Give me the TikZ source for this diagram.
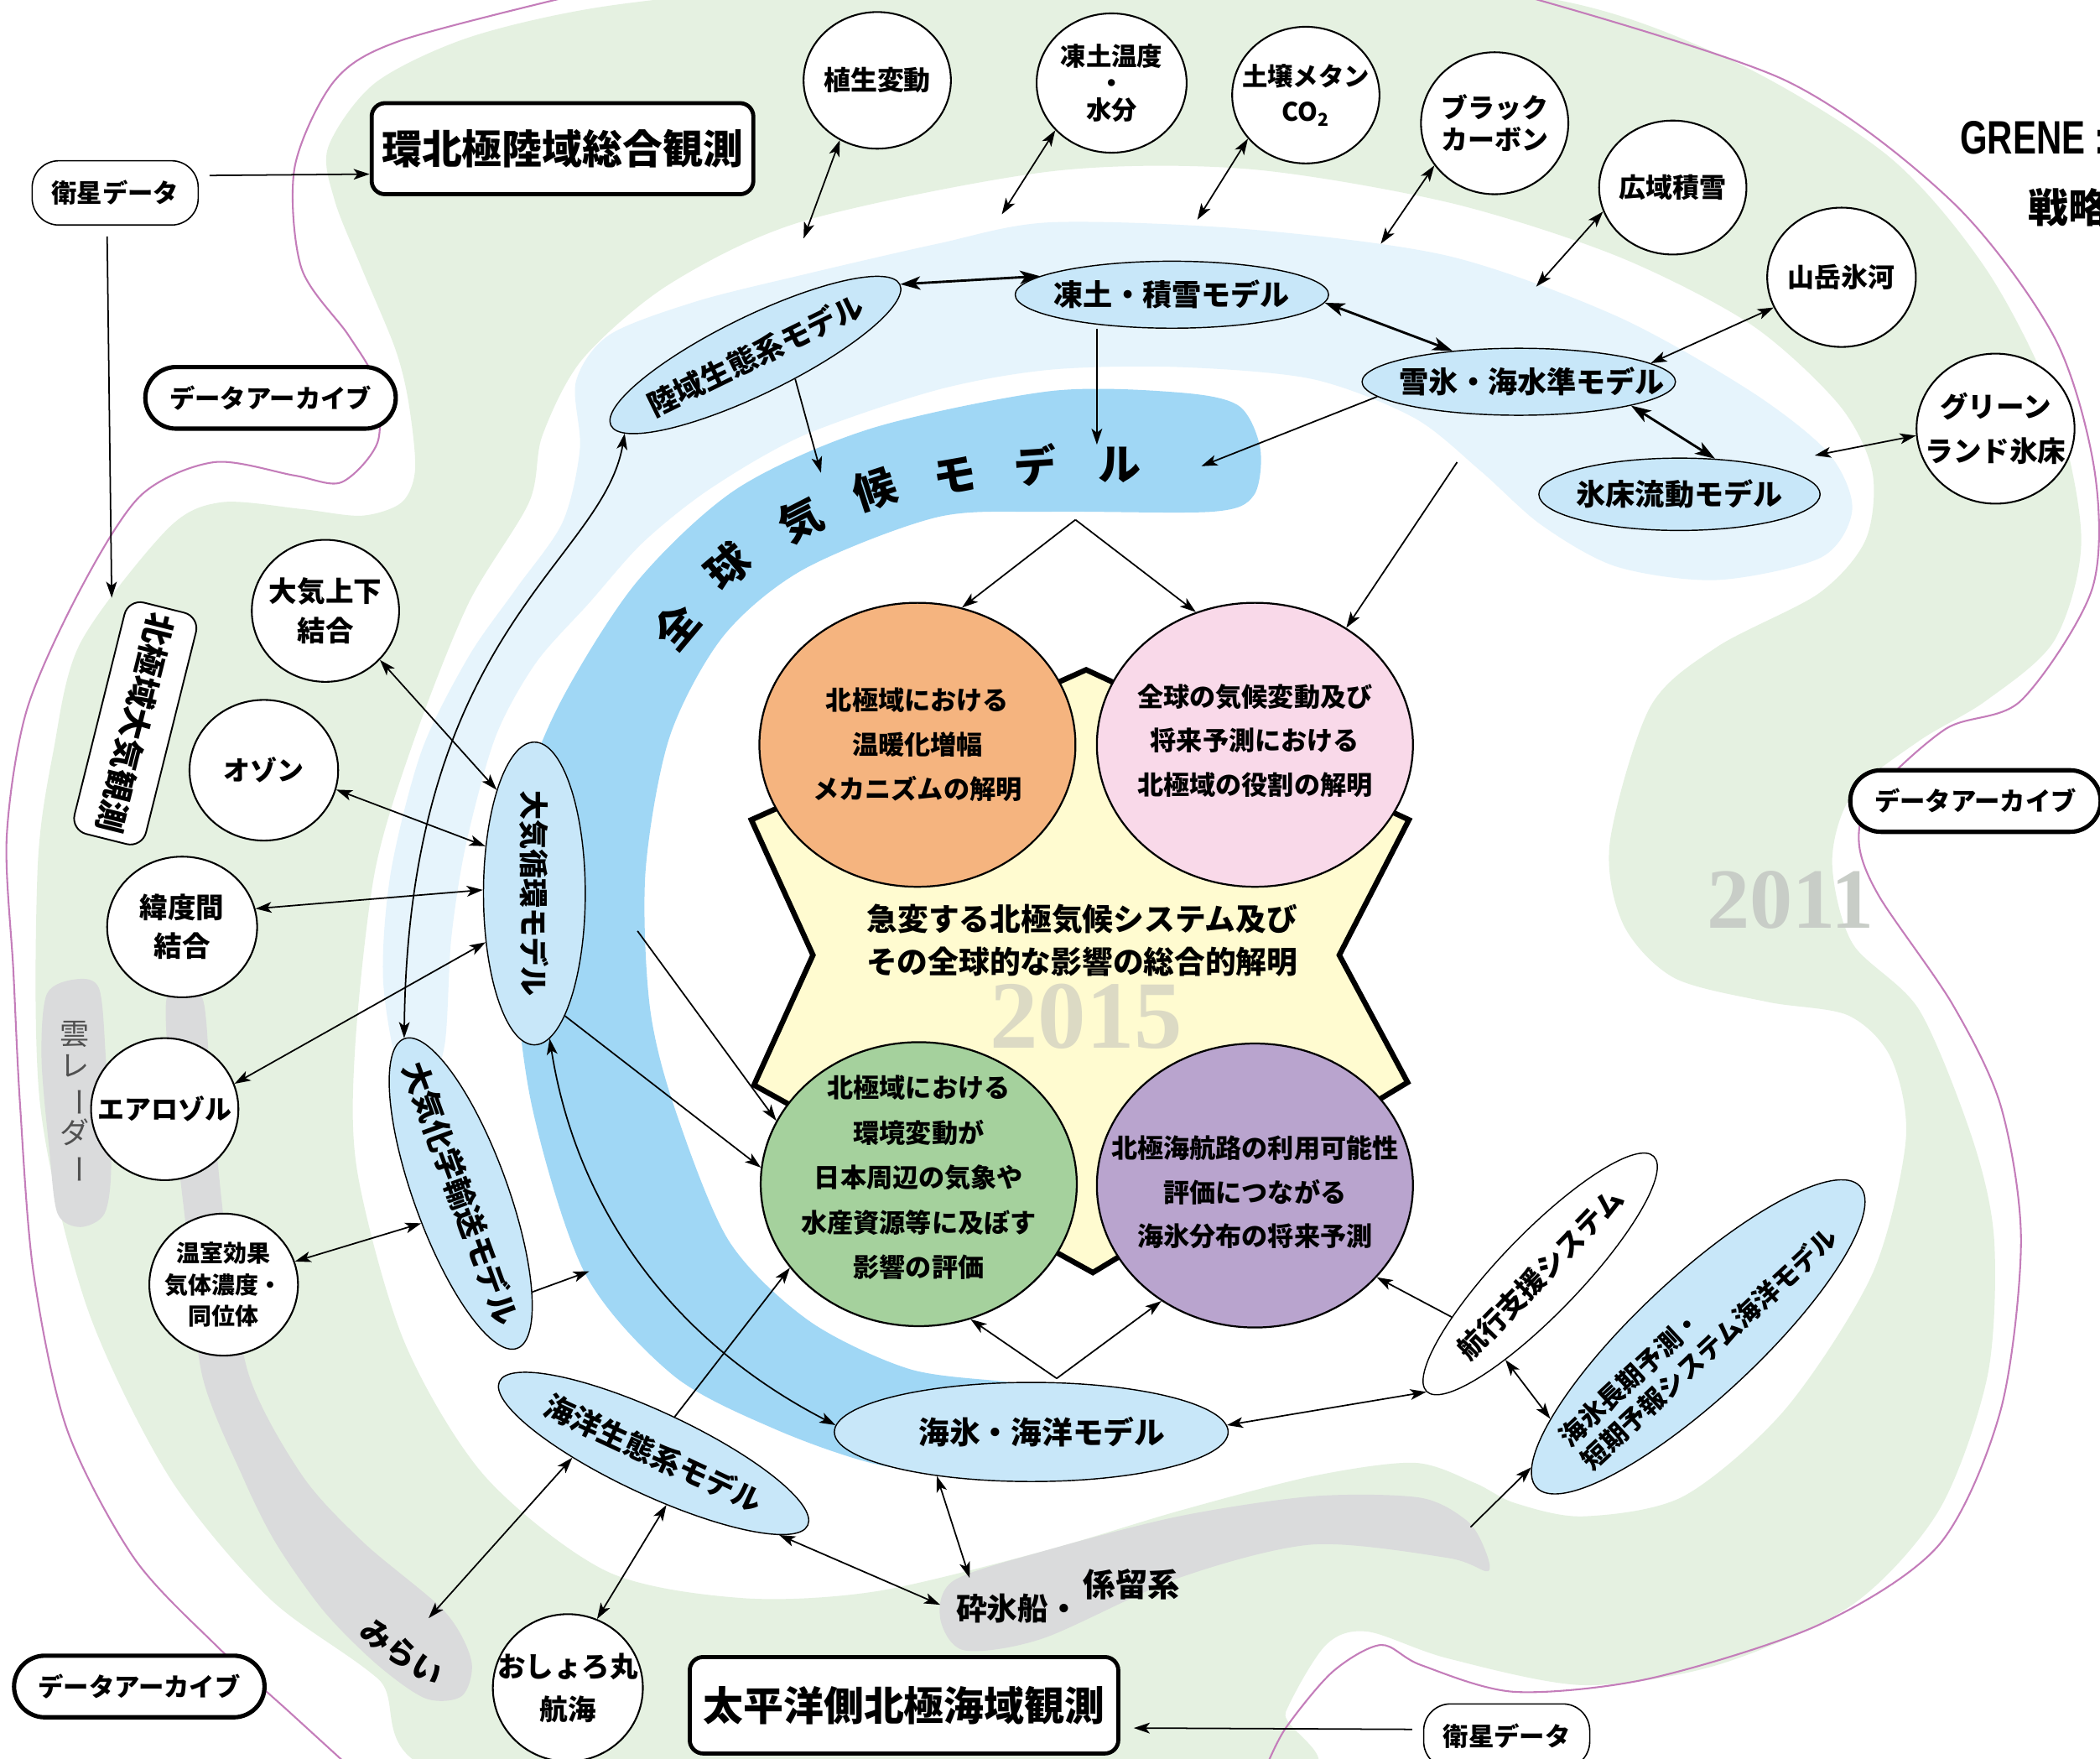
\documentclass[tikz,border=0pt]{standalone}
\usepackage{fontspec}
\usepackage{graphicx}
\setmainfont{Noto Sans CJK JP}
\newfontfamily\numfont{Liberation Serif}
\newfontfamily\grenefont{Liberation Sans}[FakeStretch=0.75]
\usetikzlibrary{shapes.geometric,arrows.meta}
\definecolor{bgreen}{HTML}{E5F1E1}
\definecolor{lblue}{HTML}{E6F4FC}
\definecolor{gcmblue}{HTML}{A0D7F5}
\definecolor{mblue}{HTML}{C8E7F9}
\definecolor{grayband}{HTML}{DADBDC}
\definecolor{purpline}{HTML}{C47DBA}
\definecolor{staryel}{HTML}{FFFBD0}
\definecolor{orangec}{HTML}{F5B47F}
\definecolor{pinkc}{HTML}{F9D9E9}
\definecolor{greenc}{HTML}{A5D19D}
\definecolor{purplec}{HTML}{B9A4CE}
\definecolor{grayyear}{HTML}{C8CDC7}
\definecolor{grayyearb}{HTML}{DCDAC4}
\definecolor{radartext}{HTML}{505050}
\newcommand\fsz[2]{\fontsize{#1}{#2}\selectfont\bfseries}

\begin{document}
\begin{tikzpicture}[x=1pt,y=-1pt,
  lab/.style n args={2}{font=\fsz{#1}{#2},align=center},
  obs/.style={ellipse,draw,line width=1.3pt,fill=white,inner sep=0pt},
  model/.style={ellipse,draw,line width=0.9pt,fill=mblue,inner sep=0pt},
  goal/.style={ellipse,draw,line width=1.4pt,inner sep=0pt,minimum width=236pt,minimum height=212pt},
  archive/.style={draw,line width=3.2pt,rounded corners=23pt,fill=white,minimum width=187pt,minimum height=46pt,inner sep=0pt,font=\fsz{19}{19}},
  satbox/.style={draw,line width=1pt,rounded corners=20pt,fill=white,minimum width=124pt,minimum height=48pt,inner sep=0pt,font=\fsz{19}{19}},
  obsbox/.style={draw,line width=3pt,rounded corners=10pt,fill=white,inner sep=0pt,font=\fsz{30}{30}},
  gcm/.style={font=\fsz{32}{32}},
  arr/.style={-{Stealth[length=12pt,width=8pt,inset=3pt]},line width=1.1pt},
  darr/.style={{Stealth[length=12pt,width=8pt,inset=3pt]}-{Stealth[length=12pt,width=8pt,inset=3pt]},line width=1.1pt},
  bigdarr/.style={{Stealth[length=15pt,width=10pt,inset=4pt]}-{Stealth[length=15pt,width=10pt,inset=4pt]},line width=1.8pt}]

\useasboundingbox (0,0) rectangle (1568,1313);
\fill[white] (0,0) rectangle (1568,1313);

% background bands
\fill[bgreen,even odd rule]
  plot[smooth cycle] coordinates {(280,62) (350,28) (450,5) (600,-10) (800,-15) (1130,-5) (1282,40) (1408,115) (1483,201) (1534,302) (1554,403) (1534,478) (1483,523) (1433,553) (1383,593) (1368,643) (1383,704) (1433,754) (1473,851) (1489,926) (1484,1027) (1448,1127) (1383,1198) (1282,1243) (1182,1258) (1081,1238) (1021,1218) (990,1228) (960,1278) (945,1330) (360,1330) (282,1253) (201,1193) (126,1102) (65,976) (30,825) (28,650) (40,560) (60,480) (125,395) (165,375) (225,380) (270,385) (300,375) (310,350) (305,300) (295,260) (270,200) (250,150) (245,110)}
  plot[smooth cycle] coordinates {(784,128) (930,126) (1081,151) (1207,191) (1307,242) (1373,302) (1398,352) (1393,403) (1358,443) (1282,483) (1232,528) (1202,629) (1212,690) (1250,730) (1320,748) (1380,758) (1412,790) (1423,851) (1398,951) (1333,1052) (1257,1117) (1182,1132) (1131,1122) (1101,1107) (1056,1092) (980,1102) (880,1128) (779,1158) (654,1188) (554,1193) (453,1173) (362,1102) (302,1002) (267,876) (265,784) (280,650) (310,550) (350,450) (395,375) (405,325) (435,268) (500,212) (600,165)};
\fill[lblue] plot[smooth cycle] coordinates {(430,285) (455,250) (520,225) (600,205) (700,182) (784,166) (930,171) (1081,191) (1207,236) (1307,292) (1365,338) (1383,380) (1360,416) (1282,433) (1207,423) (1151,392) (1106,352) (1056,312) (980,283) (880,274) (784,276) (700,291) (600,325) (530,365) (480,405) (440,450) (400,495) (370,550) (348,630) (337,700) (332,780) (318,815) (298,800) (286,730) (292,650) (315,560) (350,490) (385,440) (420,390) (433,335)};
\fill[gcmblue] plot[smooth cycle] coordinates {(475,435) (550,365) (650,320) (784,292) (880,293) (925,303) (941,335) (936,370) (905,382) (784,382) (700,386) (600,425) (540,475) (500,550) (482,650) (485,750) (503,825) (544,926) (604,986) (679,1022) (755,1032) (805,1040) (828,1062) (805,1088) (730,1102) (654,1093) (579,1067) (503,1027) (437,951) (397,825) (383,700) (390,600) (418,525)};
\fill[grayband] plot[smooth cycle] coordinates {(57,731) (74,738) (79,790) (83,870) (78,906) (60,916) (43,906) (37,860) (31,790) (35,742)};
\fill[grayband] plot[smooth cycle] coordinates {(124,748) (137,735) (152,748) (158,820) (169,926) (186,1027) (226,1102) (272,1152) (332,1203) (352,1240) (345,1266) (318,1268) (282,1243) (242,1203) (206,1152) (181,1102) (151,1027) (140,926) (128,820)};
\fill[grayband] plot[smooth cycle] coordinates {(712,1180) (779,1158) (880,1132) (980,1117) (1060,1118) (1095,1135) (1108,1155) (1111,1173) (1081,1163) (980,1153) (880,1178) (779,1223) (720,1232) (702,1208)};
\draw[purpline,line width=1.3pt] plot[smooth] coordinates {(435,-5) (300,30) (250,60) (220,125) (225,200) (260,250) (280,285) (282,330) (255,360) (220,355) (160,345) (105,370) (60,440) (20,530) (5,625) (10,725) (15,825) (25,950) (50,1067) (100,1163) (161,1228) (216,1278) (262,1320)};
\draw[purpline,line width=1.3pt] plot[smooth] coordinates {(1131,-5) (1333,60) (1458,151) (1534,252) (1564,352) (1562,440) (1509,523) (1453,544) (1398,594) (1388,629) (1403,669) (1458,750) (1494,826) (1509,926) (1494,1052) (1448,1153) (1358,1213) (1232,1253) (1131,1263) (1061,1243) (1031,1228) (995,1248) (960,1290) (945,1320)};

\node[font=\fontsize{22}{24}\selectfont,text=radartext,align=center] (radar) at (56,823) {雲\\レ\\\rotatebox[origin=c]{-90}{ー}\\ダ\\\rotatebox[origin=c]{-90}{ー}};
\node[font=\fsz{23}{23},rotate=-35] (mirai) at (300,1234) {みらい};
\node[font=\fsz{23}{23}] (ibreak) at (760,1201) {砕氷船・};
\node[font=\fsz{24}{24}] (moor) at (845,1183) {係留系};
\node[font=\numfont\fsz{64}{64},text=grayyear] (y2011) at (1337,672) {2011};
\node[anchor=west,font=\grenefont\fsz{35}{35}] (grene) at (1460,103) {GRENE :};
\node[anchor=west,font=\fsz{30}{30}] (senryaku) at (1511,155) {戦略};

% global climate model band
\foreach \ch/\x/\y/\r [count=\i] in {全/505/468/50, 球/543/423/40, 気/598/388/27, 候/653/365/18, モ/713/355/10, デ/773/347/4, ル/836/347/0}
  \node[gcm,rotate=\r] (gcm\i) at (\x,\y) {\ch};

% central theme
\draw[line width=4pt,fill=staryel,line join=miter] (811,500) -- (1052,612) -- (1000,713) -- (1051,808) -- (816,950) -- (563,810) -- (607,713) -- (561,612) -- cycle;
\node[font=\numfont\fsz{72}{72},text=grayyearb] (y2015) at (811,759) {2015};
\node[font=\fsz{23}{32},align=center] (theme) at (808,702) {急変する北極気候システム及び\\その全球的な影響の総合的解明};
\node[goal,fill=orangec,label={[lab={19.5}{33}]center:北極域における\\温暖化増幅\\メカニズムの解明}] (warm) at (685,556) {};
\node[goal,fill=pinkc,label={[lab={19.5}{33},yshift=3pt]center:全球の気候変動及び\\将来予測における\\北極域の役割の解明}] (role) at (937,556) {};
\node[goal,fill=greenc,label={[lab={19.5}{33.5},yshift=5pt]center:北極域における\\環境変動が\\日本周辺の気象や\\水産資源等に及ぼす\\影響の評価}] (impact) at (686,884) {};
\node[goal,fill=purplec,label={[lab={19.5}{33},yshift=-5pt]center:北極海航路の利用可能性\\評価につながる\\海氷分布の将来予測}] (outlook) at (937,885) {};

% observation boxes
\node[satbox] (sat1) at (86,144) {衛星データ};
\node[obsbox,minimum width=285pt,minimum height=68pt] (landobs) at (420,111) {環北極陸域総合観測};
\node[archive] (archL) at (202,297) {データアーカイブ};
\node[draw,line width=1.2pt,rounded corners=12pt,fill=white,minimum width=178pt,minimum height=55pt,rotate=-104,font=\fsz{24}{24},inner sep=0pt] (atmobs) at (101,540) {北極域大気観測};
\node[archive] (archR) at (1475,598) {データアーカイブ};
\node[archive] (archB) at (104,1259) {データアーカイブ};
\node[satbox] (sat2) at (1125,1296) {衛星データ};
\node[obsbox,minimum width=320pt,minimum height=72pt] (pacobs) at (675,1273) {太平洋側北極海域観測};

% observation circles
\node[obs,minimum width=110pt,minimum height=102pt,label={[lab={20}{20}]center:植生変動}] (veg) at (655,60) {};
\node[obs,minimum width=112pt,minimum height=104pt,label={[lab={19}{20}]center:凍土温度\\・\\水分}] (frz) at (830,62) {};
\node[obs,minimum width=110pt,minimum height=102pt,label={[lab={19}{26}]center:土壌メタン\\CO\textsubscript{2}}] (soil) at (975,71) {};
\node[obs,minimum width=110pt,minimum height=106pt,label={[lab={20}{24}]center:ブラック\\カーボン}] (bc) at (1116,92) {};
\node[obs,minimum width=110pt,minimum height=100pt,label={[lab={20}{20}]center:広域積雪}] (snow) at (1249,140) {};
\node[obs,minimum width=111pt,minimum height=104pt,label={[lab={20}{20}]center:山岳氷河}] (glac) at (1375,207) {};
\node[obs,minimum width=118pt,minimum height=112pt,label={[lab={21}{33}]center:グリーン\\ランド氷床}] (greenl) at (1490,320) {};
\node[obs,minimum width=110pt,minimum height=106pt,label={[lab={21}{30}]center:大気上下\\結合}] (upper) at (243,456) {};
\node[obs,minimum width=111pt,minimum height=105pt,label={[lab={20}{20}]center:オゾン}] (ozone) at (197,575) {};
\node[obs,minimum width=112pt,minimum height=105pt,label={[lab={21}{29}]center:緯度間\\結合}] (lat) at (136,692) {};
\node[obs,minimum width=110pt,minimum height=106pt,label={[lab={20}{20}]center:エアロゾル}] (aero) at (123,828) {};
\node[obs,minimum width=111pt,minimum height=106pt,label={[lab={17.5}{23.5}]center:温室効果\\気体濃度・\\同位体}] (ghg) at (167,959) {};
\node[obs,minimum width=112pt,minimum height=110pt,label={[lab={21}{32}]center:おしょろ丸\\航海}] (oshoro) at (424,1260) {};

% models
\node[model,minimum width=240pt,minimum height=58pt,rotate=26,label={[lab={22}{22},rotate=26]center:陸域生態系モデル}] (landeco) at (564,265) {};
\node[model,minimum width=234pt,minimum height=50pt,label={[lab={22}{22}]center:凍土・積雪モデル}] (frzmod) at (875,220) {};
\node[model,minimum width=234pt,minimum height=50pt,label={[lab={22}{22},xshift=10pt]center:雪氷・海水準モデル}] (slr) at (1134,285) {};
\node[model,minimum width=210pt,minimum height=54pt,label={[lab={22}{22}]center:氷床流動モデル}] (icesh) at (1254,369) {};
\node[model,minimum width=76pt,minimum height=226pt,label={[lab={22}{22},rotate=-90]center:大気循環モデル}] (agcm) at (399,667) {};
\node[model,minimum width=246pt,minimum height=70pt,rotate=-70,label={[lab={23}{23},rotate=-70]center:大気化学輸送モデル}] (chem) at (344,891) {};
\node[model,minimum width=254pt,minimum height=62pt,rotate=-25,label={[lab={22}{22},rotate=-25]center:海洋生態系モデル}] (oceco) at (488,1085) {};
\node[model,minimum width=294pt,minimum height=74pt,label={[lab={23}{23},xshift=8pt]center:海氷・海洋モデル}] (seaice) at (770,1069) {};
\node[obs,line width=0.9pt,minimum width=244pt,minimum height=60pt,rotate=46,label={[lab={21}{21},rotate=46]center:航行支援システム}] (navsys) at (1150,951) {};
\node[model,minimum width=330pt,minimum height=90pt,rotate=43,label={[lab={19.5}{24},rotate=43,align=left]center:海氷長期予測・\\短期予報システム海洋モデル}] (forecast) at (1268,998) {};

% free ends
\coordinate (vegend) at (600,178);
\coordinate (frzend) at (748,160);
\coordinate (soilend) at (894,164);
\coordinate (bcend) at (1031,182);
\coordinate (snowend) at (1147,214);
\coordinate (greenlend) at (1355,340);
\coordinate (gcmtop1) at (613,353);
\coordinate (gcmtop2) at (819,332);
\coordinate (gcmright) at (897,348);
\coordinate (gcmin) at (803,388);
\coordinate (slrlow) at (1088,345);
\coordinate (chemout) at (440,949);
\coordinate (ctrin) at (476,695);
\coordinate (miraipt) at (320,1208);
\coordinate (icebreak) at (702,1198);
\coordinate (icebreakb) at (724,1178);
\coordinate (seaapex) at (789,1029);
\coordinate (grayend) at (1098,1140);

% connectors
\draw[arr] ([xshift=8pt,yshift=13pt]sat1.east) -- ([yshift=-19pt]landobs.west);
\draw[arr] ([xshift=-6pt,yshift=-8pt]sat1.south) -- ([xshift=-12pt]atmobs.south west);
\draw[arr] ([xshift=-8pt,yshift=5pt]sat2.west) -- ([xshift=10pt,yshift=-17pt]pacobs.east);
\draw[darr] (veg.-122) -- (vegend);
\draw[darr] (frz.-140) -- (frzend);
\draw[darr] (soil.-143) -- (soilend);
\draw[darr] (bc.-145) -- (bcend);
\draw[darr] (snow.-161) -- (snowend);
\draw[darr] (glac.-156) -- (slr.8);
\draw[darr] (greenl.185) -- (greenlend);
\draw[bigdarr] (landeco.east) -- (frzmod.172);
\draw[bigdarr] (frzmod.-3) -- (slr.155);
\draw[bigdarr] (slr.-12) -- (icesh.45);
\draw[arr] (landeco.-57) -- (gcmtop1);
\draw[arr] (frzmod.south -| gcmtop2) -- (gcmtop2);
\draw[arr] (slr.186) -- (gcmright);
\draw[arr] (gcmin) -- (warm.72);
\draw[arr] (gcmin) -- (role.114);
\draw[arr] (slrlow) -- (role.52);
\draw[darr] (upper.-42) -- (agcm.110);
\draw[darr] (ozone.-15) -- (agcm.136);
\draw[darr] (lat.14) -- (agcm.176);
\draw[darr] (aero.20) -- (agcm.225);
\draw[darr] (ghg.18) -- (chem.-73);
\draw[arr] (chem.16) -- (chemout);
\draw[darr] (landeco.185) .. controls (450,420) and (305,470) .. (chem.west);
\draw[darr] (agcm.-84) .. controls (430,900) and (500,1000) .. (seaice.178);
\draw[arr] (agcm.-76) -- (impact.174);
\draw[arr] (ctrin) -- (impact.156);
\draw[arr] (oceco.85) -- (impact.213);
\draw[darr] (oceco.208) -- (miraipt);
\draw[darr] (oceco.-51) -- (oshoro.67);
\draw[darr] (oceco.-8) -- (icebreak);
\draw[darr] (seaice.205) -- (icebreakb);
\draw[arr] (seaapex) -- (impact.-69);
\draw[arr] (seaapex) -- (outlook.-129);
\draw[arr] (navsys.160) -- (outlook.-37);
\draw[darr] (seaice.2) -- (navsys.west);
\draw[darr] (navsys.202) -- (forecast.166);
\draw[arr] (grayend) -- (forecast.175);
\end{tikzpicture}
\end{document}
